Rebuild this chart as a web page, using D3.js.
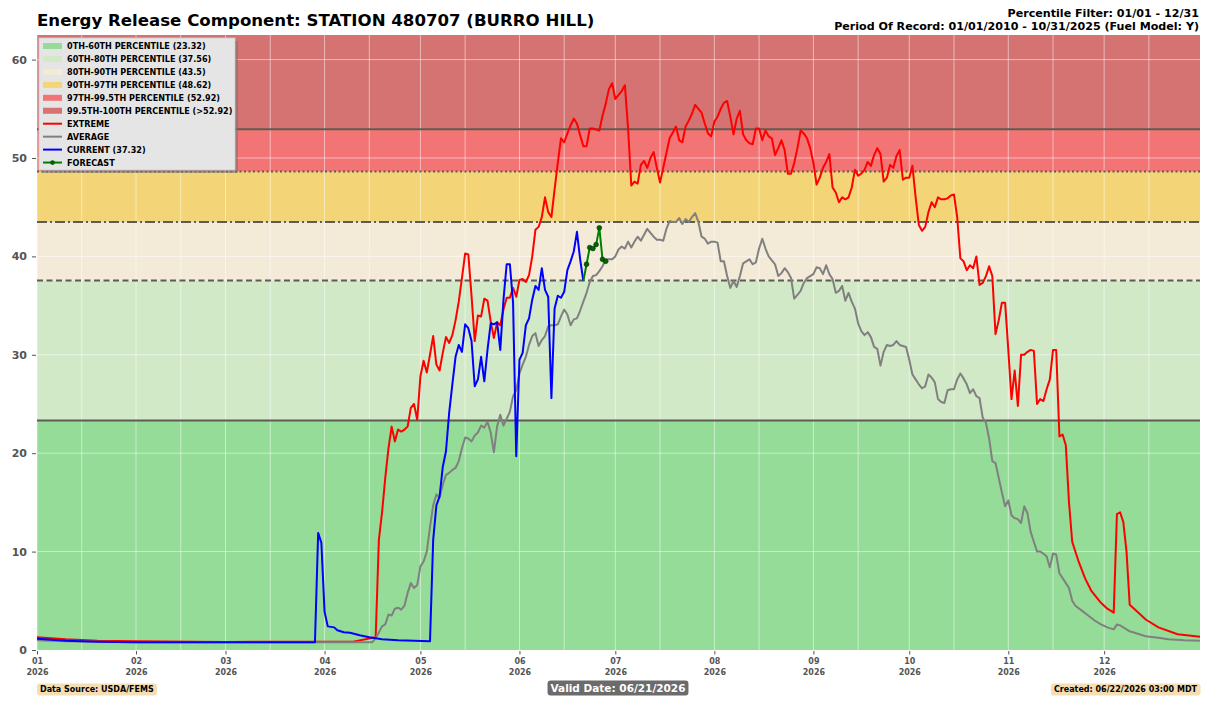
<!DOCTYPE html>
<html>
<head>
<meta charset="utf-8">
<script src="https://cdn.jsdelivr.net/npm/d3@7"></script>
<style>
  body { margin: 0; background: #fff; }
  svg { display: block; font-family: "DejaVu Sans", sans-serif; }
</style>
</head>
<body>
<div id="chart"></div>
<script>
// percentile bands (upper break of each band)
const bandLabels = [
  "0TH-60TH PERCENTILE (23.32)",
  "60TH-80TH PERCENTILE (37.56)",
  "80TH-90TH PERCENTILE (43.5)",
  "90TH-97TH PERCENTILE (48.62)",
  "97TH-99.5TH PERCENTILE (52.92)",
  "99.5TH-100TH PERCENTILE (>52.92)",
];
const bandBreaks = [0, 23.32, 37.56, 43.5, 48.62, 52.92, 62.5];
const bandColors = ["#94dc98", "#d2e9c7", "#f3ebd8", "#f3d476", "#f37474", "#d57272"];

const yTicks = [0, 10, 20, 30, 40, 50, 60];

// [day of year 2026, ERC]
const extremeData = [
  [1, 1.3], [10, 1.1], [20, 0.95], [32, 0.88], [60, 0.82], [100, 0.85], [107, 1.3],
  [108, 11.2], [109, 14], [110, 17.5], [111, 20.5], [112, 22.7], [113, 21.2], [114, 22.4], [115, 22.2], [116, 22.4],
  [117, 22.7], [118, 24.6], [119, 25], [120, 23.4], [121, 27.8], [122, 29.4], [123, 28.2], [124, 30], [125, 31.9],
  [126, 29], [127, 28.4], [128, 30.2], [129, 31.8], [130, 31.2], [131, 32], [132, 33.5], [133, 35.4], [134, 37.8],
  [135, 40.3], [136, 40.2], [137, 36], [138, 31.4], [139, 34], [140, 33.9], [141, 35.7], [142, 35.5], [143, 33.4],
  [144, 31.7], [145, 33.3], [146, 33], [147, 34.6], [148, 35.8], [149, 35.8], [150, 36.8], [151, 35.9], [152, 37.6],
  [153, 37.7], [154, 37.4], [155, 38.1], [156, 40], [157, 42.7], [158, 43], [159, 44], [160, 46], [161, 44.5],
  [162, 44], [163, 46.8], [164, 49.5], [165, 52], [166, 51.6], [167, 52.5], [168, 53.3], [169, 54], [170, 53.5],
  [171, 52.3], [172, 51.2], [173, 51.2], [174, 53], [175, 53], [176, 52.9], [177, 52.8], [178, 54.3], [179, 55.5],
  [180, 57], [181, 57.6], [182, 56], [183, 56.4], [184, 56.8], [185, 57.4], [186, 53], [187, 47.2], [188, 47.6],
  [189, 47.4], [190, 49.3], [191, 49.7], [192, 49], [193, 50], [194, 50.6], [195, 49], [196, 47.5], [197, 49],
  [198, 50.5], [199, 52], [200, 52.6], [201, 53.2], [202, 51.8], [203, 51.6], [204, 53.2], [205, 53.8], [206, 54.5],
  [207, 55.4], [208, 55], [209, 54.6], [210, 53.5], [211, 52.5], [212, 52.2], [213, 53.7], [214, 54.2], [215, 55],
  [216, 55.6], [217, 55.8], [218, 54.2], [219, 52.4], [220, 54], [221, 54.8], [222, 52.4], [223, 51.8], [224, 51.5],
  [225, 51.4], [226, 53], [227, 53], [228, 51.8], [229, 52.8], [230, 52.2], [231, 52], [232, 50.3], [233, 51],
  [234, 51.8], [235, 50.8], [236, 48.4], [237, 48.4], [238, 49.5], [239, 51], [240, 52.8], [241, 52.5], [242, 52],
  [243, 51], [244, 49.5], [245, 47.3], [246, 48], [247, 49], [248, 49.6], [249, 50.4], [250, 47], [251, 46.5],
  [252, 45.5], [253, 46], [254, 45.8], [255, 46], [256, 47], [257, 48.8], [258, 48.2], [259, 48.4], [260, 48.8],
  [261, 49.6], [262, 49.2], [263, 50.3], [264, 51], [265, 50.4], [266, 47.6], [267, 48], [268, 49.3], [269, 49],
  [270, 50.2], [271, 50.8], [272, 47.8], [273, 48], [274, 48], [275, 49.2], [276, 46], [277, 43.2], [278, 42.6],
  [279, 43], [280, 44.5], [281, 45.5], [282, 45], [283, 46], [284, 45.8], [285, 45.8], [286, 45.9], [287, 46.2],
  [288, 46.3], [289, 44], [290, 39.8], [291, 39.5], [292, 38.6], [293, 39.1], [294, 38.8], [295, 40], [296, 37.1],
  [297, 37.3], [298, 38], [299, 39], [300, 38], [301, 32.1], [302, 33.5], [303, 35.3], [304, 35.3], [305, 30.5],
  [306, 25.5], [307, 28.4], [308, 24.8], [309, 30], [310, 30], [311, 30.3], [312, 30.5], [313, 30.4], [314, 25],
  [315, 25.5], [316, 25.3], [317, 26.5], [318, 27.5], [319, 30.5], [320, 30.5], [321, 21.7], [322, 21.9],
  [323, 20.8], [324, 15], [325, 11], [327, 9], [329, 7.3], [331, 6], [334, 4.8], [336, 4.2], [338, 3.8],
  [339, 13.8], [340, 14], [341, 13], [342, 10], [343, 4.6], [346, 3.7], [348, 3.1], [352, 2.3], [358, 1.6], [365, 1.35],
];

const averageData = [
  [1, 1.0], [10, 0.9], [20, 0.83], [32, 0.8], [106, 0.8], [107, 1.2], [109, 2.4], [110, 2.6], [111, 3.6], [112, 3.5],
  [113, 4.2], [114, 4.3], [115, 4.1], [116, 4.5], [117, 5.8], [118, 6.8], [119, 6.3], [120, 6.6], [121, 8.5],
  [122, 9], [123, 10], [124, 12.5], [125, 14.7], [126, 15.8], [127, 15.5], [128, 16.8], [129, 17.8], [130, 18],
  [131, 18.3], [132, 18.5], [133, 19.2], [134, 20.5], [135, 21.6], [136, 21.5], [137, 21.2], [138, 21.8], [139, 22.1],
  [140, 22.8], [141, 22.6], [142, 23.2], [143, 22.1], [144, 20.1], [145, 22.7], [146, 23.9], [147, 22.8], [148, 23.5],
  [149, 24.2], [150, 25.8], [151, 26.4], [152, 28.1], [153, 29], [154, 29.8], [155, 31], [156, 31.9], [157, 32.2],
  [158, 30.9], [159, 31.5], [160, 31.9], [161, 32.9], [162, 33], [163, 33], [164, 33.1], [165, 33.9], [166, 34.6],
  [167, 34.1], [168, 33], [169, 33.6], [170, 33.7], [171, 34.5], [172, 35.4], [173, 36.3], [174, 37.4], [175, 38],
  [176, 38.1], [177, 38.5], [178, 39], [179, 39.7], [180, 39.7], [181, 39.7], [182, 40], [183, 40.7], [184, 41],
  [185, 40.8], [186, 41.5], [187, 40.9], [188, 41.5], [189, 42], [190, 41.6], [191, 42.2], [192, 42.8], [193, 42.4],
  [194, 42], [195, 41.7], [196, 41.7], [197, 41.6], [198, 42.8], [199, 43.6], [200, 43.5], [201, 43.5], [202, 43.9],
  [203, 43.3], [204, 43.8], [205, 43.5], [206, 44], [207, 44.4], [208, 43.5], [209, 42], [210, 41.8], [211, 41.3],
  [212, 41.5], [213, 41.5], [214, 41.4], [215, 39.5], [216, 39.5], [217, 38], [218, 36.8], [219, 37.5], [220, 36.9],
  [221, 38], [222, 39.3], [223, 39.5], [224, 39.7], [225, 39.2], [226, 39.4], [227, 40.8], [228, 41.8], [229, 40.8],
  [230, 40], [231, 39.6], [232, 39.2], [233, 38], [234, 38.3], [235, 38.8], [236, 38.4], [237, 37.8], [238, 35.7],
  [239, 36.1], [240, 36.5], [241, 37.3], [242, 37.8], [243, 38], [244, 38.2], [245, 38.9], [246, 38.8], [247, 38.2],
  [248, 39.1], [249, 38.2], [250, 37.7], [251, 36.3], [252, 36.5], [253, 37], [254, 35.5], [255, 36.3], [256, 35.4],
  [257, 34.7], [258, 33.2], [259, 32.4], [260, 32], [261, 32.3], [262, 31.8], [263, 30.8], [264, 30.6], [265, 28.9],
  [266, 30.3], [267, 31], [268, 30.9], [269, 31], [270, 31.4], [271, 31], [272, 30.9], [273, 30.8], [274, 29.5],
  [275, 28], [276, 27.5], [277, 27], [278, 26.6], [279, 26.8], [280, 28], [281, 27.7], [282, 27.2], [283, 25.5],
  [284, 25.2], [285, 25.1], [286, 26.4], [287, 26.5], [288, 26.5], [289, 27.5], [290, 28.1], [291, 27.6], [292, 27],
  [293, 26.1], [294, 26.5], [295, 25.8], [296, 25.6], [297, 23.6], [298, 23.1], [299, 21.5], [300, 19.2], [301, 19],
  [302, 17.5], [303, 16], [304, 14.6], [305, 15.2], [306, 13.7], [307, 13.4], [308, 13.3], [309, 12.9], [310, 14.6],
  [311, 13.9], [312, 12], [313, 11], [314, 10], [315, 10], [316, 9.8], [317, 9.5], [318, 8.4], [319, 9.8], [320, 9.7],
  [321, 7.8], [322, 7.3], [323, 6.8], [324, 6.3], [325, 5], [326, 4.5], [328, 4], [330, 3.5], [332, 3], [334, 2.6],
  [336, 2.3], [338, 2.1], [339, 2.6], [340, 2.5], [341, 2.3], [343, 1.9], [346, 1.6], [348, 1.4], [352, 1.25],
  [355, 1.1], [360, 1.0], [365, 0.95],
];

const currentData = [
  [1, 1.15], [10, 0.95], [20, 0.85], [32, 0.8], [60, 0.78], [88, 0.8], [89, 11.9], [90, 10.9], [91, 3.9], [92, 2.4],
  [94, 2.3], [95, 2.0], [97, 1.8], [99, 1.75], [102, 1.5], [105, 1.3], [109, 1.1], [114, 1.0], [124, 0.9],
  [125, 11.2], [126, 14.7], [127, 15.6], [128, 18.6], [129, 20.2], [130, 24.1], [131, 27], [132, 29.8], [133, 31],
  [134, 30.3], [135, 33.1], [136, 32.7], [137, 31.4], [138, 26.8], [139, 27.5], [140, 29.8], [141, 27.3], [142, 30.5],
  [143, 33.2], [144, 33.1], [145, 33.3], [146, 30.5], [147, 35.6], [148, 39.2], [149, 39.2], [150, 35.3], [151, 19.7],
  [152, 29.5], [153, 30.2], [154, 33], [155, 33.7], [156, 35.6], [157, 37], [158, 36.6], [159, 38.8], [160, 36.6],
  [161, 35.9], [162, 25.6], [163, 34.7], [164, 36], [165, 35.8], [166, 36.4], [167, 38.6], [168, 39.5], [169, 40.5],
  [170, 42.5], [171, 39.7], [172, 37.5],
];

const forecastData = [
  [172, 37.5], [173, 39.2], [174, 40.9], [175, 40.8], [176, 41.2], [177, 42.9], [178, 39.7], [179, 39.5],
];

const lineLabels = ["EXTREME", "AVERAGE", "CURRENT (37.32)", "FORECAST"];
const lineColors = ["#ff0000", "#808080", "#0000ff", "#008000"];

const width = 1209,
  height = 703,
  plotLeft = 37,
  plotRight = 1200,
  plotTop = 35,
  plotBottom = 650;

const dayToDate = (d) => new Date(2026, 0, d);

const svg = d3
  .select("#chart")
  .append("svg")
  .attr("width", width)
  .attr("height", height);

const x = d3
  .scaleTime()
  .domain([new Date(2026, 0, 1), new Date(2026, 11, 31)])
  .range([plotLeft, plotRight]);
const y = d3.scaleLinear().domain([0, 62.5]).range([plotBottom, plotTop]);

// percentile bands
svg
  .append("g")
  .selectAll("rect")
  .data(bandColors)
  .join("rect")
  .attr("x", plotLeft)
  .attr("width", plotRight - plotLeft)
  .attr("y", (d, i) => y(bandBreaks[i + 1]))
  .attr("height", (d, i) => y(bandBreaks[i]) - y(bandBreaks[i + 1]))
  .attr("fill", (d) => d);

// grid
const gridDates = [];
for (let m = 0; m < 12; m++) {
  gridDates.push(new Date(2026, m, 1), new Date(2026, m, 15));
}
const grid = svg.append("g").attr("stroke", "#fff").attr("stroke-opacity", 0.5);
grid
  .selectAll(".vg")
  .data(gridDates)
  .join("line")
  .attr("x1", (d) => x(d))
  .attr("x2", (d) => x(d))
  .attr("y1", plotTop)
  .attr("y2", plotBottom);
grid
  .selectAll(".hg")
  .data(yTicks.slice(1))
  .join("line")
  .attr("x1", plotLeft)
  .attr("x2", plotRight)
  .attr("y1", (d) => y(d))
  .attr("y2", (d) => y(d));

// threshold lines
const thresholdDash = ["none", "6,3.5", "10,3,2,3", "2,2.5", "none"];
svg
  .append("g")
  .selectAll("line")
  .data(bandBreaks.slice(1, 6))
  .join("line")
  .attr("x1", plotLeft)
  .attr("x2", plotRight)
  .attr("y1", (d) => y(d))
  .attr("y2", (d) => y(d))
  .attr("stroke", "#5c5c52")
  .attr("stroke-width", 2)
  .attr("stroke-dasharray", (d, i) => thresholdDash[i]);

// series
const line = d3
  .line()
  .x((d) => x(dayToDate(d[0])))
  .y((d) => y(d[1]));

[extremeData, averageData, currentData, forecastData].forEach((data, i) => {
  svg
    .append("path")
    .attr("d", line(data))
    .attr("fill", "none")
    .attr("stroke", lineColors[i])
    .attr("stroke-width", 2)
    .attr("stroke-linejoin", "round");
});

svg
  .append("g")
  .selectAll("circle")
  .data(forecastData.slice(1))
  .join("circle")
  .attr("cx", (d) => x(dayToDate(d[0])))
  .attr("cy", (d) => y(d[1]))
  .attr("r", 2.4)
  .attr("fill", "#006400")
  .attr("stroke", "#003300")
  .attr("stroke-width", 0.6);

// axes
const yAxis = svg
  .append("g")
  .attr("transform", `translate(${plotLeft - 1},0)`)
  .call(d3.axisLeft(y).tickValues(yTicks).tickSize(4).tickPadding(5));
yAxis.select(".domain").remove();
yAxis.selectAll("line").attr("stroke", "#555");
yAxis
  .selectAll("text")
  .attr("fill", "#555")
  .attr("font-size", 11)
  .attr("font-weight", "bold")
  .attr("font-family", "DejaVu Sans");

const xAxis = svg
  .append("g")
  .attr("transform", `translate(0,${plotBottom + 1})`)
  .call(
    d3
      .axisBottom(x)
      .ticks(d3.timeMonth.every(1))
      .tickSize(3.5)
      .tickPadding(4)
      .tickFormat(d3.timeFormat("%m"))
  );
xAxis.select(".domain").remove();
xAxis.selectAll("line").attr("stroke", "#555");
xAxis
  .selectAll("text")
  .attr("fill", "#555")
  .attr("font-size", 8)
  .attr("font-weight", "bold")
  .attr("font-family", "DejaVu Sans")
  .each(function (d) {
    const t = d3.select(this);
    const mm = t.text();
    t.text("");
    t.append("tspan").attr("x", 0).text(mm);
    t.append("tspan").attr("x", 0).attr("dy", "1.35em").text(d3.timeFormat("%Y")(d));
  });

// titles
svg
  .append("text")
  .attr("x", plotLeft)
  .attr("y", 26)
  .attr("font-size", 16.6)
  .attr("font-weight", "bold")
  .text("Energy Release Component: STATION 480707 (BURRO HILL)");

svg
  .append("text")
  .attr("x", plotRight - 1)
  .attr("y", 17)
  .attr("text-anchor", "end")
  .attr("font-size", 11.1)
  .attr("font-weight", "bold")
  .text("Percentile Filter: 01/01 - 12/31");
svg
  .append("text")
  .attr("x", plotRight - 1)
  .attr("y", 30)
  .attr("text-anchor", "end")
  .attr("font-size", 11.1)
  .attr("font-weight", "bold")
  .text("Period Of Record: 01/01/2010 - 10/31/2025 (Fuel Model: Y)");

// legend
const legend = svg.append("g").attr("transform", "translate(39,38)");
legend
  .append("rect")
  .attr("x", 3)
  .attr("y", 3)
  .attr("width", 196)
  .attr("height", 132)
  .attr("fill", "#777")
  .attr("opacity", 0.6);
legend
  .append("rect")
  .attr("width", 196)
  .attr("height", 132)
  .attr("fill", "#e5e5e5")
  .attr("stroke", "#ccc")
  .attr("stroke-width", 0.8);

const rowY = (i) => 8 + i * 12.95;
bandLabels.forEach((label, i) => {
  legend
    .append("rect")
    .attr("x", 4)
    .attr("y", rowY(i) - 3)
    .attr("width", 19)
    .attr("height", 6)
    .attr("fill", bandColors[i]);
  legend
    .append("text")
    .attr("x", 28)
    .attr("y", rowY(i) + 3)
    .attr("font-size", 8.1)
    .attr("font-weight", "bold")
    .text(label);
});
lineLabels.forEach((label, i) => {
  const yy = rowY(i + 6);
  legend
    .append("line")
    .attr("x1", 4)
    .attr("x2", 23)
    .attr("y1", yy)
    .attr("y2", yy)
    .attr("stroke", lineColors[i])
    .attr("stroke-width", 2);
  if (i === 3) {
    legend
      .append("circle")
      .attr("cx", 13.5)
      .attr("cy", yy)
      .attr("r", 2.4)
      .attr("fill", "#006400");
  }
  legend
    .append("text")
    .attr("x", 28)
    .attr("y", yy + 3)
    .attr("font-size", 8.1)
    .attr("font-weight", "bold")
    .text(label);
});

// footer boxes
function footerLabel(textValue, xPos, anchor, fill, color, size) {
  const g = svg.append("g");
  const t = g
    .append("text")
    .attr("x", xPos)
    .attr("y", 692)
    .attr("text-anchor", anchor)
    .attr("font-size", size)
    .attr("font-weight", "bold")
    .attr("fill", color)
    .text(textValue);
  const b = t.node().getBBox();
  g.insert("rect", "text")
    .attr("x", b.x - 3)
    .attr("y", b.y - 1.5)
    .attr("width", b.width + 6)
    .attr("height", b.height + 3)
    .attr("rx", 3)
    .attr("fill", fill);
}
footerLabel("Data Source: USDA/FEMS", 40, "start", "#f5deb3", "#000", 8);
footerLabel("Valid Date: 06/21/2026", 618, "middle", "#6b6b6b", "#fff", 10.5);
footerLabel("Created: 06/22/2026 03:00 MDT", 1197, "end", "#f5deb3", "#000", 8);
</script>
</body>
</html>
